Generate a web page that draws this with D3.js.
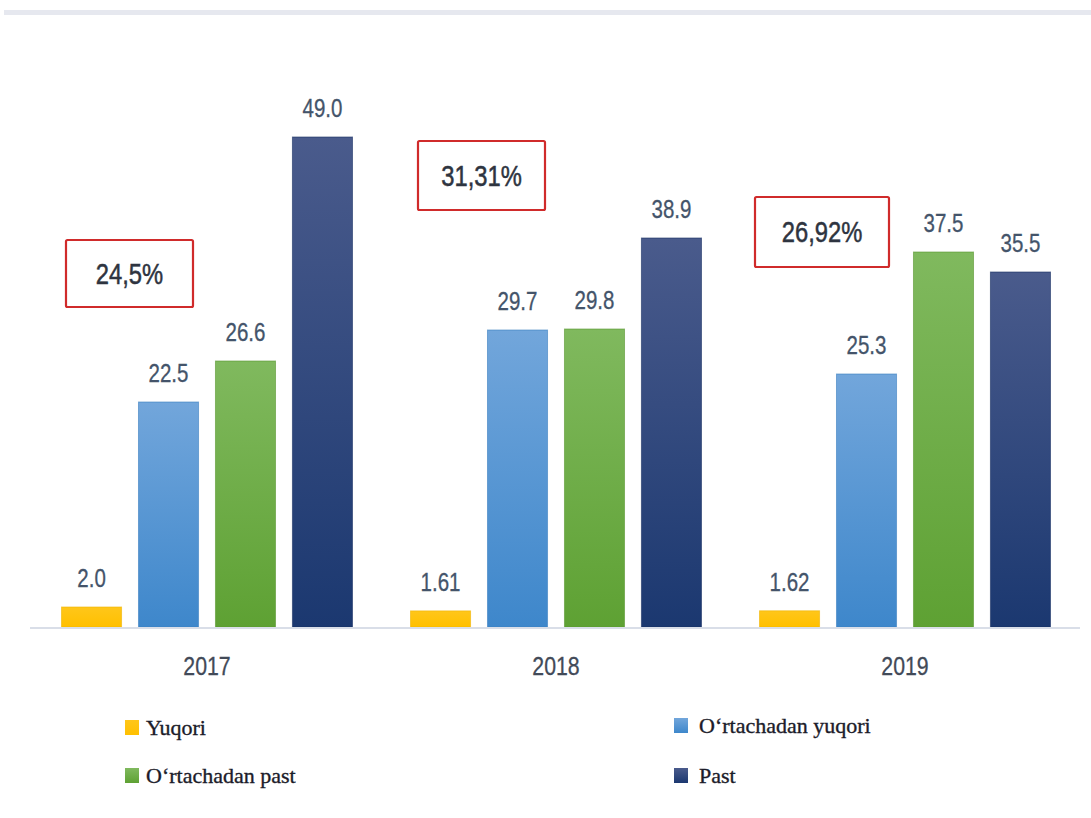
<!DOCTYPE html>
<html>
<head>
<meta charset="utf-8">
<script src="https://cdn.jsdelivr.net/npm/d3@7"></script>
<style>
  html, body { margin: 0; padding: 0; background: #ffffff; }
  svg { display: block; }
</style>
</head>
<body>
<svg id="chart" width="1091" height="818"></svg>
<script>
// Years on the category axis
const years = ["2017", "2018", "2019"];

// Income groups (series)
const seriesNames = ["Yuqori", "O‘rtachadan yuqori", "O‘rtachadan past", "Past"];

// Values per series, one per year
const yuqori = [2.0, 1.61, 1.62];
const ortaYuqori = [22.5, 29.7, 25.3];
const ortaPast = [26.6, 29.8, 37.5];
const past = [49.0, 38.9, 35.5];

// Value labels as printed above the bars
const yuqoriLabels = ["2.0", "1.61", "1.62"];
const ortaYuqoriLabels = ["22.5", "29.7", "25.3"];
const ortaPastLabels = ["26.6", "29.8", "37.5"];
const pastLabels = ["49.0", "38.9", "35.5"];

// Highlighted share for each year
const shareLabels = ["24,5%", "31,31%", "26,92%"];

const seriesValues = [yuqori, ortaYuqori, ortaPast, past];
const seriesLabels = [yuqoriLabels, ortaYuqoriLabels, ortaPastLabels, pastLabels];

const svg = d3.select("#chart");
const baseY = 627;
const sansFont = "'Liberation Sans', Arial, sans-serif";
const narrow = 0.82; // horizontal squeeze giving a condensed sans look

// Gradient fills: lighter at the top of each bar, darker at its base
const fills = [
  { id: "g0", top: "#ffc61a", bottom: "#ffc000", edge: "#f0b400" },
  { id: "g1", top: "#72a6db", bottom: "#3e87cb", edge: "#3a7fc0" },
  { id: "g2", top: "#80b95e", bottom: "#5ea133", edge: "#58962f" },
  { id: "g3", top: "#4a5b8c", bottom: "#1b3870", edge: "#182f62" }
];
const defs = svg.append("defs");
fills.forEach(f => {
  const g = defs.append("linearGradient").attr("id", f.id)
    .attr("x1", 0).attr("y1", 0).attr("x2", 0).attr("y2", 1);
  g.append("stop").attr("offset", "0%").attr("stop-color", f.top);
  g.append("stop").attr("offset", "100%").attr("stop-color", f.bottom);
});

// Scales
const x0 = d3.scaleBand().domain(years).range([32.5, 1079.5]).paddingInner(0).paddingOuter(0);
const x1 = d3.scaleBand().domain(d3.range(seriesNames.length))
  .range([0, x0.bandwidth()]).paddingInner(0.22).paddingOuter(0.377);
const y = d3.scaleLinear().domain([0, 49]).range([baseY, 137]);

// Thin rule along the top edge
svg.append("rect").attr("x", 4).attr("y", 10).attr("width", 1087).attr("height", 5)
  .attr("fill", "#e6e8ef");

// Bars
const groups = svg.append("g").selectAll("g")
  .data(years).join("g")
  .attr("transform", d => `translate(${x0(d)},0)`);

const barData = (yr, i) => seriesValues.map((vals, s) => ({ s, v: vals[i], label: seriesLabels[s][i] }));

groups.selectAll("rect")
  .data(barData)
  .join("rect")
  .attr("x", d => x1(d.s))
  .attr("width", x1.bandwidth())
  .attr("y", d => y(d.v))
  .attr("height", d => baseY - y(d.v))
  .attr("fill", d => `url(#${fills[d.s].id})`)
  .attr("stroke", d => fills[d.s].edge)
  .attr("stroke-opacity", 0.6)
  .attr("stroke-width", 1);

// Value labels
groups.selectAll("text.val")
  .data(barData)
  .join("text")
  .attr("class", "val")
  .attr("transform", d => `translate(${x1(d.s) + x1.bandwidth() / 2},${y(d.v) - 20}) scale(${narrow},1)`)
  .attr("text-anchor", "middle")
  .attr("font-family", sansFont)
  .attr("font-size", 25)
  .attr("fill", "#44546a")
  .attr("stroke", "#44546a")
  .attr("stroke-width", 0.3)
  .text(d => d.label);

// Baseline
svg.append("line").attr("x1", 30).attr("x2", 1080).attr("y1", baseY + 1).attr("y2", baseY + 1)
  .attr("stroke", "#d9dee8").attr("stroke-width", 2);

// Year axis
const xAxis = d3.axisBottom(x0).tickSize(0).tickPadding(0);
const axisG = svg.append("g").attr("transform", `translate(0,${baseY})`).call(xAxis);
axisG.select(".domain").remove();
axisG.selectAll("text")
  .attr("y", 0)
  .attr("dy", 0)
  .attr("transform", `translate(0,48) scale(${narrow},1)`)
  .attr("font-family", sansFont)
  .attr("font-size", 26)
  .attr("fill", "#424a58")
  .attr("stroke", "#424a58")
  .attr("stroke-width", 0.3);

// Share boxes for each year
const boxLayout = [
  { x: 66, y: 240, w: 127, h: 67 },
  { x: 418, y: 141, w: 127, h: 69 },
  { x: 755, y: 197, w: 134, h: 70 }
];
const boxes = svg.append("g").selectAll("g").data(shareLabels).join("g");
boxes.append("rect")
  .attr("x", (d, i) => boxLayout[i].x)
  .attr("y", (d, i) => boxLayout[i].y)
  .attr("width", (d, i) => boxLayout[i].w)
  .attr("height", (d, i) => boxLayout[i].h)
  .attr("fill", "none")
  .attr("stroke", "#d02b2b")
  .attr("stroke-width", 2.2)
  .attr("rx", 1.5);
boxes.append("text")
  .attr("transform", (d, i) =>
    `translate(${boxLayout[i].x + boxLayout[i].w / 2},${boxLayout[i].y + boxLayout[i].h / 2 + 10}) scale(${narrow},1)`)
  .attr("text-anchor", "middle")
  .attr("font-family", sansFont)
  .attr("font-size", 29)
  .attr("fill", "#2e3440")
  .attr("stroke", "#2e3440")
  .attr("stroke-width", 0.5)
  .text(d => d);

// Legend
const legendLayout = [
  { x: 125, y: 720, tx: 21 },
  { x: 674, y: 718, tx: 25 },
  { x: 125, y: 768, tx: 21 },
  { x: 674, y: 768, tx: 25 }
];
const legend = svg.append("g").selectAll("g").data(seriesNames).join("g")
  .attr("transform", (d, i) => `translate(${legendLayout[i].x},${legendLayout[i].y})`);
legend.append("rect")
  .attr("width", 14).attr("height", 15)
  .attr("fill", (d, i) => `url(#${fills[i].id})`);
legend.append("text")
  .attr("x", (d, i) => legendLayout[i].tx).attr("y", 15)
  .attr("font-family", "'Liberation Serif', 'DejaVu Serif', serif")
  .attr("font-size", 22)
  .attr("fill", "#1c1c2a")
  .attr("stroke", "#1c1c2a")
  .attr("stroke-width", 0.35)
  .text(d => d);
</script>
</body>
</html>
